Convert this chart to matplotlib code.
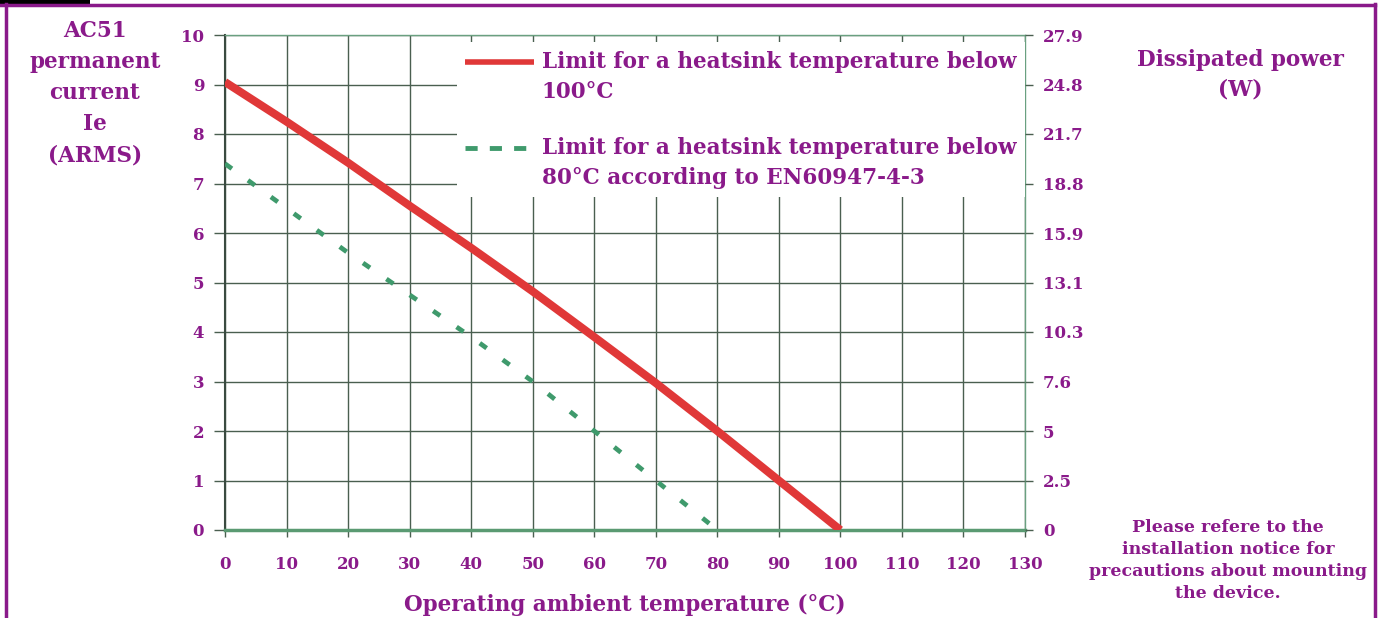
import numpy as np
import matplotlib
matplotlib.use('Agg')
import matplotlib.pyplot as plt
from matplotlib.patches import Rectangle
from matplotlib.lines import Line2D
from matplotlib.legend_handler import HandlerLine2D

# data
temp_100 = [0, 10, 20, 30, 40, 50, 60, 70, 80, 90, 100]
current_100 = [9.05, 8.25, 7.42, 6.55, 5.7, 4.82, 3.9, 2.97, 2.0, 1.0, 0.0]
temp_80 = [0, 10, 20, 30, 40, 50, 60, 70, 80]
current_80 = [7.4, 6.5, 5.6, 4.75, 3.9, 3.0, 2.0, 1.0, 0.0]
x_ticks = list(range(0, 140, 10))
y_ticks = list(range(0, 11))
power_labels = ['0', '2.5', '5', '7.6', '10.3', '13.1', '15.9', '18.8', '21.7', '24.8', '27.9']
label_100 = 'Limit for a heatsink temperature below\n100°C'
label_80 = 'Limit for a heatsink temperature below\n80°C according to EN60947-4-3'

purple = '#8a1a8a'
grid_c = '#4a5f50'
serif = ['DejaVu Serif']


class FirstLineHandler(HandlerLine2D):
    # put the legend line next to the first text line, not the middle
    def create_artists(self, legend, orig_handle, xdescent, ydescent, width, height, fontsize, trans):
        arts = super().create_artists(legend, orig_handle, xdescent, ydescent, width, height,
                                      fontsize, trans)
        for a in arts:
            a.set_ydata([y + 0.72 * fontsize for y in a.get_ydata()])
        return arts


fig = plt.figure(figsize=(13.82, 6.18), dpi=100)
ax = fig.add_axes([225 / 1382, 88 / 618, 800 / 1382, 495 / 618])

l1, = ax.plot(temp_100, current_100, color='#e03838', lw=5.8, solid_capstyle='butt', zorder=4,
              label=label_100)
l2, = ax.plot(temp_80, current_80, color='#3f9a6c', lw=3.4, dashes=(1.8, 4.2), zorder=4,
              label=label_80)

ax.set_xlim(0, 130)
ax.set_ylim(0, 10)
ax.set_xticks(x_ticks)
ax.set_yticks(y_ticks)
ax.grid(True, color=grid_c, lw=1.0, zorder=1)
ax.set_axisbelow(True)
for s in ['top', 'right']:
    ax.spines[s].set_color('#6aa080')
    ax.spines[s].set_linewidth(1.0)
ax.spines['left'].set_color('#3a4a40')
ax.spines['left'].set_linewidth(1.5)
ax.spines['bottom'].set_color('#5a9a72')
ax.spines['bottom'].set_linewidth(2.5)
ax.tick_params(axis='x', direction='out', length=5, width=1, color=grid_c, pad=14,
               labelsize=12, labelcolor=purple)
ax.tick_params(axis='y', direction='out', length=8, width=1, color=grid_c, pad=7,
               labelsize=12, labelcolor=purple)
for t in ax.get_xticklabels() + ax.get_yticklabels():
    t.set_fontfamily(serif)
    t.set_fontweight('bold')

ax2 = ax.twinx()
ax2.set_ylim(0, 10)
ax2.set_yticks(y_ticks)
ax2.set_yticklabels(power_labels)
ax2.tick_params(axis='y', direction='out', length=6, width=1, color=grid_c, pad=7,
                labelsize=12, labelcolor=purple)
for s in ax2.spines.values():
    s.set_visible(False)
for t in ax2.get_yticklabels():
    t.set_fontfamily(serif)
    t.set_fontweight('bold')

leg = ax.legend(loc='upper right', bbox_to_anchor=(1.0, 0.985), borderaxespad=0.0,
                frameon=True, fancybox=False, facecolor='white', edgecolor='none', framealpha=1,
                prop={'family': serif, 'weight': 'bold', 'size': 15.5},
                handlelength=3.2, handletextpad=0.35, labelspacing=1.6, borderpad=0.4,
                handler_map={l1: FirstLineHandler(), l2: FirstLineHandler()})
for t in leg.get_texts():
    t.set_color(purple)
    t.set_linespacing(1.45)
leg.get_lines()[0].set_linewidth(4)
leg.get_lines()[1].set_linewidth(3.5)
leg.get_lines()[1].set_dashes((2.5, 2.5))
leg.set_zorder(3)

ax.set_xlabel('Operating ambient temperature (°C)', family=serif, weight='bold', size=15.5,
              color=purple, labelpad=15)

fig.text(95 / 1382, 1 - 20 / 618, 'AC51\npermanent\ncurrent\nIe\n(ARMS)', family=serif,
         weight='bold', size=15.5, color=purple, ha='center', va='top', linespacing=1.53)
fig.text(1240 / 1382, 1 - 49 / 618, 'Dissipated power\n(W)', family=serif,
         weight='bold', size=15.5, color=purple, ha='center', va='top', linespacing=1.45)
fig.text(1228 / 1382, 1 - 519 / 618,
         'Please refere to the\ninstallation notice for\nprecautions about mounting\nthe device.',
         family=serif, weight='bold', size=12.5, color=purple, ha='center', va='top',
         linespacing=1.38)

# frame around the picture
fig.add_artist(Line2D([6 / 1382, 6 / 1382], [0, 1 - 4 / 618], color=purple, lw=2.5))
fig.add_artist(Line2D([0, 1375 / 1382], [1 - 5 / 618, 1 - 5 / 618], color=purple, lw=2.5))
fig.add_artist(Line2D([1375 / 1382, 1375 / 1382], [0, 1 - 4 / 618], color=purple, lw=2.5))
fig.add_artist(Rectangle((0, 1 - 6 / 618), 90 / 1382, 6 / 618, transform=fig.transFigure,
                         color='black', lw=0))

fig.savefig('out.png', dpi=100)
